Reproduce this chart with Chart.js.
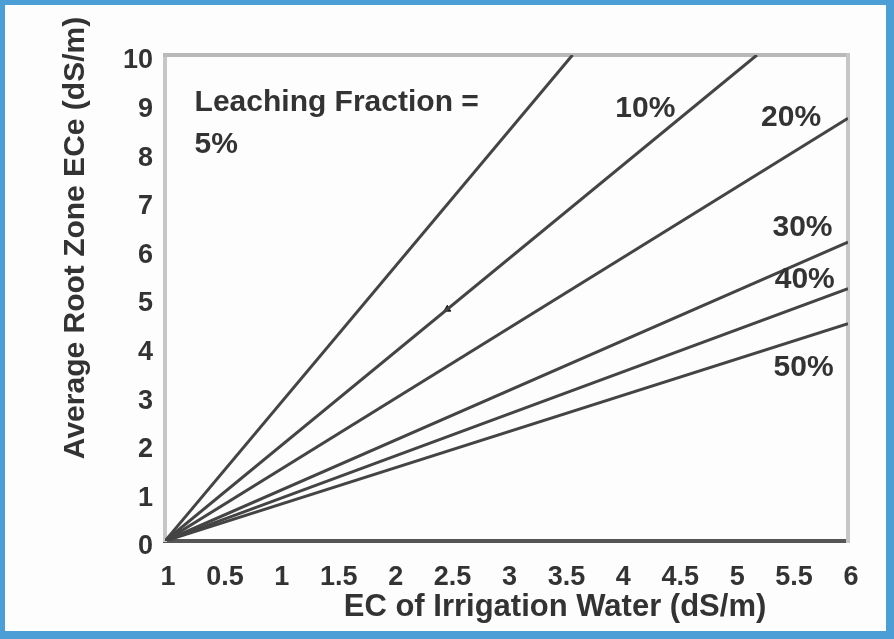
<!DOCTYPE html>
<html>
<head>
<meta charset="utf-8">
<script src="https://cdn.jsdelivr.net/npm/chart.js@4.4.1/dist/chart.umd.min.js"></script>
<style>
  html, body { margin: 0; padding: 0; background: #4b9fd6; }
  body { width: 894px; height: 639px; position: relative; overflow: hidden; }
  #frame { position: absolute; left: 5px; top: 5px; width: 881px; height: 626px; background: #fdfdfd; }
  canvas { display: block; }
</style>
</head>
<body>
<div id="frame"><canvas id="c" width="881" height="626"></canvas></div>
<script>
// Leaching fraction lines: each runs from the origin to its end point
const fractions   = ['5%', '10%', '20%', '30%', '40%', '50%'];
const endEcw      = [3.58, 5.2, 6, 6, 6, 6];
const endEce      = [10, 10, 8.7, 6.15, 5.19, 4.47];

// Small arrow mark sitting on the 10% line
const markEcw = [2.48];
const markEce = [4.77];

// Axis tick labels
const xTickLabels = ['1', '0.5', '1', '1.5', '2', '2.5', '3', '3.5', '4', '4.5', '5', '5.5', '6'];
const yTickLabels = ['0', '1', '2', '3', '4', '5', '6', '7', '8', '9', '10'];

const xTitle = 'EC of Irrigation Water (dS/m)';
const yTitle = 'Average Root Zone ECe (dS/m)';

const ink = '#333333';
const lineInk = '#444444';
const face = '"Liberation Sans", Arial, sans-serif';

const datasets = fractions.map((f, i) => ({
  label: f,
  data: [{ x: 0, y: 0 }, { x: endEcw[i], y: endEce[i] }],
  showLine: true,
  borderColor: lineInk,
  borderWidth: 3,
  pointRadius: 0,
  fill: false
}));
datasets.push({
  label: 'mark',
  data: markEcw.map((v, i) => ({ x: v, y: markEce[i] })),
  showLine: false,
  pointStyle: 'triangle',
  pointRadius: 4,
  pointBackgroundColor: '#1e1e1e',
  pointBorderColor: '#1e1e1e'
});

// Text placed in the plot, anchored (baseline) at data coordinates
const notes = [
  { text: 'Leaching Fraction =', x: 0.26, y: 8.85, align: 'left' },
  { text: '5%',  x: 0.26, y: 7.98, align: 'left' },
  { text: '10%', x: 4.22, y: 8.72, align: 'center' },
  { text: '20%', x: 5.50, y: 8.54, align: 'center' },
  { text: '30%', x: 5.60, y: 6.27, align: 'center' },
  { text: '40%', x: 5.62, y: 5.20, align: 'center' },
  { text: '50%', x: 5.61, y: 3.39, align: 'center' }
];

const plotDecor = {
  id: 'plotDecor',
  beforeDatasetsDraw(chart) {
    const { ctx, chartArea: a } = chart;
    ctx.save();
    ctx.lineCap = 'square';
    ctx.strokeStyle = '#b9b9b9';
    ctx.lineWidth = 4;
    ctx.beginPath();
    ctx.moveTo(a.left, a.top);
    ctx.lineTo(a.right, a.top);
    ctx.stroke();
    ctx.strokeStyle = '#c6c6c6';
    ctx.beginPath();
    ctx.moveTo(a.right, a.top);
    ctx.lineTo(a.right, a.bottom);
    ctx.stroke();
    ctx.restore();
  },
  afterDatasetsDraw(chart) {
    const { ctx, scales: { x, y } } = chart;
    ctx.save();
    ctx.fillStyle = ink;
    ctx.font = 'bold 30px ' + face;
    ctx.textBaseline = 'alphabetic';
    notes.forEach(n => {
      ctx.textAlign = n.align;
      ctx.fillText(n.text, x.getPixelForValue(n.x), y.getPixelForValue(n.y));
    });
    ctx.restore();
  },
  afterDraw(chart) {
    const { ctx } = chart;
    ctx.save();
    ctx.fillStyle = ink;
    ctx.textAlign = 'center';
    ctx.textBaseline = 'alphabetic';
    ctx.font = 'bold 31px ' + face;
    ctx.fillText(xTitle, 550, 611);
    ctx.translate(79, 233);
    ctx.rotate(-Math.PI / 2);
    ctx.font = 'bold 30px ' + face;
    ctx.fillText(yTitle, 0, 0);
    ctx.restore();
  }
};

new Chart(document.getElementById('c'), {
  type: 'scatter',
  data: { datasets },
  options: {
    responsive: false,
    devicePixelRatio: 1,
    animation: false,
    layout: { padding: { top: 50, right: 38, left: 0, bottom: 0 } },
    plugins: { legend: { display: false }, tooltip: { enabled: false } },
    scales: {
      x: {
        type: 'linear',
        min: 0, max: 6,
        afterFit(s) { s.height = 90; },
        grid: { display: false, drawTicks: false },
        border: { display: true, color: '#565656', width: 4 },
        ticks: {
          stepSize: 0.5,
          padding: 20,
          labelOffset: 3,
          color: ink,
          font: { family: face, size: 27, weight: 'bold' },
          maxRotation: 0,
          autoSkip: false,
          callback: (v, i) => xTickLabels[i]
        }
      },
      y: {
        type: 'linear',
        min: 0, max: 10,
        afterFit(s) { s.width = 160; },
        grid: { display: false, drawTicks: false },
        border: { display: true, color: '#c6c6c6', width: 4 },
        ticks: {
          stepSize: 1,
          padding: 12,
          labelOffset: 6,
          color: ink,
          font: { family: face, size: 27, weight: 'bold' },
          callback: (v, i) => yTickLabels[i]
        }
      }
    }
  },
  plugins: [plotDecor]
});
</script>
</body>
</html>
